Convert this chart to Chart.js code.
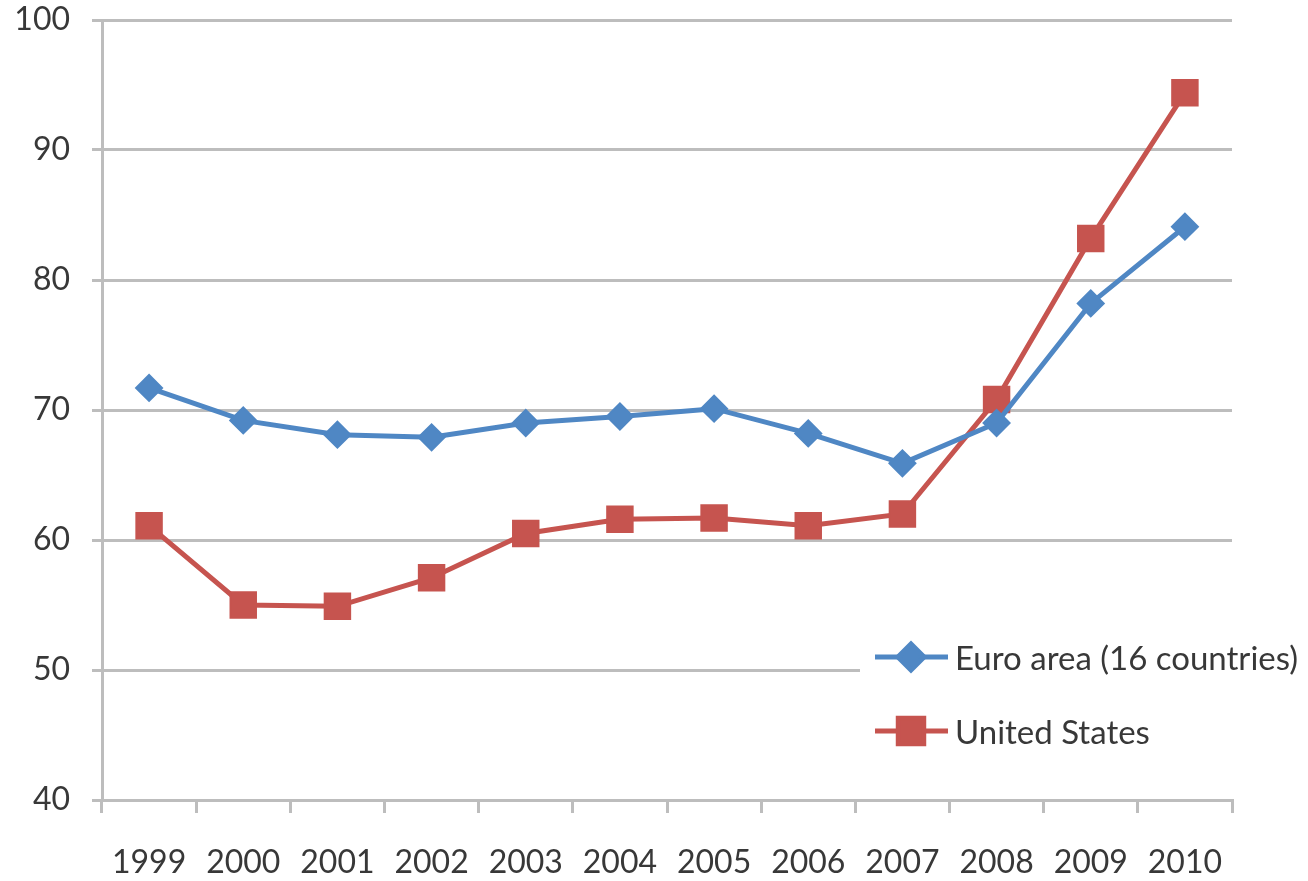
<!DOCTYPE html>
<html>
<head>
<meta charset="utf-8">
<script src="https://cdn.jsdelivr.net/npm/chart.js@4/dist/chart.umd.min.js"></script>
<style>
  html, body { margin: 0; padding: 0; background: #fff; }
  #wrap { width: 1308px; height: 881px; }
</style>
</head>
<body>
<div id="wrap"><canvas id="chart" width="1308" height="881"></canvas></div>
<script>
const years = ['1999', '2000', '2001', '2002', '2003', '2004', '2005', '2006', '2007', '2008', '2009', '2010'];
const euroArea = [71.7, 69.2, 68.1, 67.9, 69.0, 69.5, 70.1, 68.2, 65.9, 69.0, 78.2, 84.1];
const unitedStates = [61.1, 55.0, 54.9, 57.1, 60.5, 61.6, 61.7, 61.1, 62.0, 70.8, 83.2, 94.4];
const seriesNames = ['Euro area (16 countries)', 'United States'];

const blue = '#4F87C4';
const red = '#C6544F';
const gridColor = '#BDBDBD';
const textColor = '#383838';
const fontFamily = 'Lato, "Open Sans", sans-serif';

// legend drawn inside the plot, bottom right, over a white box
const insideLegend = {
    id: 'insideLegend',
    afterDatasetsDraw(chart) {
        const ctx = chart.ctx;
        ctx.save();
        ctx.fillStyle = '#fff';
        ctx.fillRect(860, 630, chart.width - 860, 135);
        const rows = [657, 731];
        chart.data.datasets.forEach((ds, i) => {
            const y = rows[i];
            ctx.strokeStyle = ds.borderColor;
            ctx.lineWidth = ds.borderWidth;
            ctx.beginPath();
            ctx.moveTo(875, y);
            ctx.lineTo(948, y);
            ctx.stroke();
            ctx.fillStyle = ds.pointBackgroundColor;
            ctx.strokeStyle = ds.pointBorderColor;
            Chart.helpers.drawPoint(ctx, {
                pointStyle: ds.pointStyle,
                radius: ds.pointRadius,
                borderWidth: ds.pointBorderWidth,
                rotation: 0
            }, 911, y);
            ctx.fillStyle = textColor;
            ctx.font = '33px ' + fontFamily;
            ctx.textBaseline = 'middle';
            ctx.textAlign = 'left';
            ctx.fillText(ds.label, 955, y + 2);
        });
        ctx.restore();
    }
};

new Chart(document.getElementById('chart'), {
    type: 'line',
    plugins: [insideLegend],
    data: {
        labels: years,
        datasets: [{
            label: seriesNames[0],
            data: euroArea,
            borderColor: blue,
            borderWidth: 5,
            pointStyle: 'rectRot',
            pointRadius: 13,
            pointBorderWidth: 2,
            pointBackgroundColor: blue,
            pointBorderColor: blue,
            tension: 0,
            clip: false
        }, {
            label: seriesNames[1],
            data: unitedStates,
            borderColor: red,
            borderWidth: 5,
            pointStyle: 'rect',
            pointRadius: 18,
            pointBorderWidth: 2,
            pointBackgroundColor: red,
            pointBorderColor: red,
            tension: 0,
            clip: false
        }]
    },
    options: {
        responsive: false,
        animation: false,
        layout: { padding: { left: 0, right: 76, top: 20, bottom: 0 } },
        plugins: {
            legend: { display: false },
            tooltip: { enabled: false }
        },
        scales: {
            x: {
                offset: true,
                grid: {
                    offset: true,
                    drawOnChartArea: false,
                    drawTicks: true,
                    tickLength: 13,
                    color: gridColor,
                    lineWidth: 3
                },
                border: { color: gridColor, width: 3 },
                ticks: {
                    color: textColor,
                    padding: 30,
                    maxRotation: 0,
                    font: { family: fontFamily, size: 32 }
                },
                afterFit(scale) {
                    scale.height = 81;
                    scale.paddingLeft = 0;
                    scale.paddingRight = 0;
                }
            },
            y: {
                min: 40,
                max: 100,
                ticks: {
                    stepSize: 10,
                    color: textColor,
                    padding: 22,
                    font: { family: fontFamily, size: 32 }
                },
                grid: {
                    color: gridColor,
                    lineWidth: 3,
                    tickLength: 10
                },
                border: { color: gridColor, width: 3 },
                afterFit(scale) {
                    scale.width = 102;
                    scale.paddingTop = 0;
                    scale.paddingBottom = 0;
                }
            }
        }
    }
});
</script>
</body>
</html>
